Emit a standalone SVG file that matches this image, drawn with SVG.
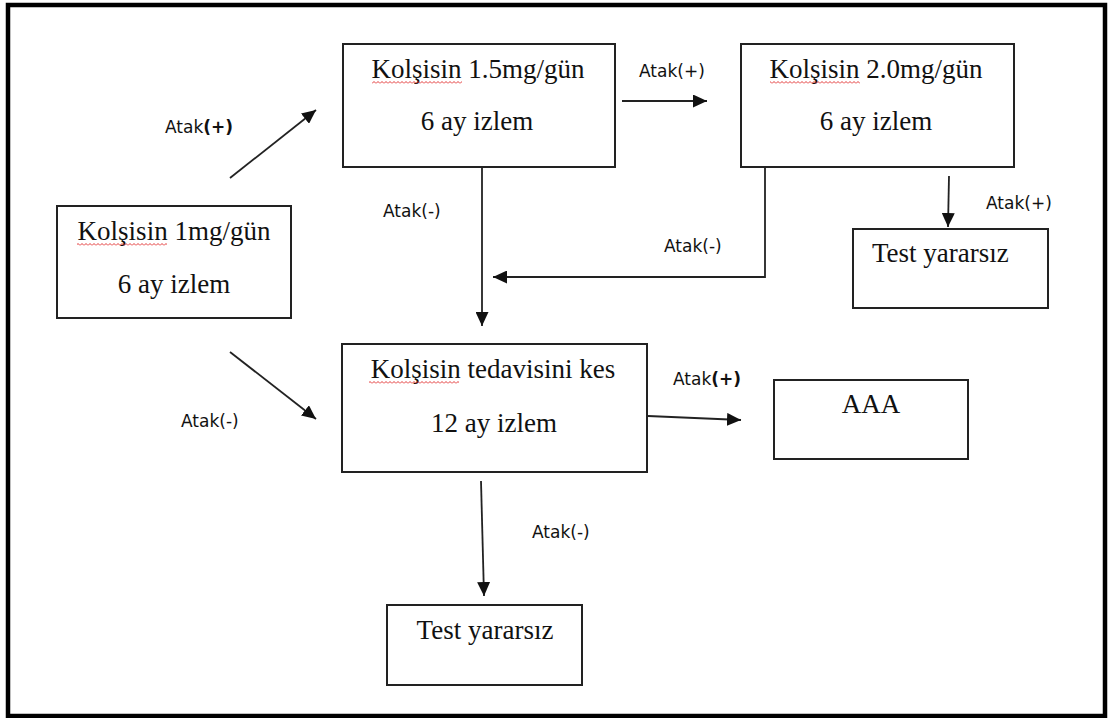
<svg xmlns="http://www.w3.org/2000/svg" width="1109" height="718" viewBox="0 0 1109 718">
<style>
.box{fill:#fff;stroke:#222;stroke-width:2}
.t{font-family:"Liberation Serif","Times New Roman",serif;font-size:27px;fill:#111;text-anchor:middle}
.ts{font-family:"Liberation Serif","Times New Roman",serif;font-size:27px;fill:#111}
.lbl{font-family:"DejaVu Sans",Verdana,sans-serif;font-size:17px;fill:#111}
.b{font-weight:bold}
.c{fill:none;stroke:#222;stroke-width:1.8}
.sq{fill:url(#sq)}
</style>
<defs>
<marker id="ah" markerUnits="userSpaceOnUse" markerWidth="15" markerHeight="13" refX="14" refY="6.5" orient="auto">
<path d="M0,0 L14,6.5 L0,13 z" fill="#111"/>
</marker>
<pattern id="sq" patternUnits="userSpaceOnUse" width="4" height="3">
<polyline points="0,2.5 2,0.5 4,2.5" fill="none" stroke="#e02020" stroke-width="0.9"/>
</pattern>
</defs>
<rect x="0" y="0" width="1109" height="718" fill="#fff"/>
<rect x="8" y="5" width="1097" height="711" fill="none" stroke="#000" stroke-width="4.5"/>

<g id="connectors">
<line class="c" x1="230" y1="178" x2="316" y2="110" marker-end="url(#ah)"/>
<line class="c" x1="622" y1="101" x2="707" y2="101" marker-end="url(#ah)"/>
<line class="c" x1="482" y1="167" x2="482" y2="326" marker-end="url(#ah)"/>
<polyline class="c" points="765,167 765,277 493,277" marker-end="url(#ah)"/>
<line class="c" x1="949" y1="176" x2="948" y2="227" marker-end="url(#ah)"/>
<line class="c" x1="230" y1="352" x2="316" y2="419" marker-end="url(#ah)"/>
<line class="c" x1="648" y1="416" x2="741" y2="420" marker-end="url(#ah)"/>
<line class="c" x1="481" y1="481" x2="484" y2="596" marker-end="url(#ah)"/>
<text class="lbl" x="165" y="133">Atak<tspan class="b">(+)</tspan></text>
<text class="lbl" x="639" y="77">Atak(+)</text>
<text class="lbl" x="383" y="217">Atak(-)</text>
<text class="lbl" x="664" y="252">Atak(-)</text>
<text class="lbl" x="986" y="209">Atak(+)</text>
<text class="lbl" x="181" y="427">Atak(-)</text>
<text class="lbl" x="673" y="385">Atak<tspan class="b">(+)</tspan></text>
<text class="lbl" x="532" y="538">Atak(-)</text>
</g>

<g id="node-1mg">
<rect class="box" x="57" y="206" width="234" height="112"/>
<text class="t" x="174" y="240">Kolşisin 1mg/gün</text>
<rect class="sq" x="77" y="243" width="90" height="3"/>
<text class="t" x="174" y="293">6 ay izlem</text>
</g>

<g id="node-15mg">
<rect class="box" x="343" y="44" width="272" height="123"/>
<text class="t" x="478" y="78">Kolşisin 1.5mg/gün</text>
<rect class="sq" x="372" y="81" width="90" height="3"/>
<text class="t" x="477" y="130">6 ay izlem</text>
</g>

<g id="node-20mg">
<rect class="box" x="741" y="44" width="273" height="123"/>
<text class="t" x="876" y="78">Kolşisin 2.0mg/gün</text>
<rect class="sq" x="770" y="81" width="90" height="3"/>
<text class="t" x="876" y="130">6 ay izlem</text>
</g>

<g id="node-test-right">
<rect class="box" x="853" y="229" width="195" height="79"/>
<text class="ts" x="872" y="262">Test yararsız</text>
</g>

<g id="node-kes">
<rect class="box" x="342" y="344" width="305" height="128"/>
<text class="t" x="493" y="378">Kolşisin tedavisini kes</text>
<rect class="sq" x="369" y="381" width="90" height="3"/>
<text class="t" x="494" y="432">12 ay izlem</text>
</g>

<g id="node-aaa">
<rect class="box" x="774" y="380" width="194" height="79"/>
<text class="t" x="871" y="413">AAA</text>
</g>

<g id="node-test-bottom">
<rect class="box" x="387" y="605" width="195" height="80"/>
<text class="t" x="485" y="639">Test yararsız</text>
</g>
</svg>
